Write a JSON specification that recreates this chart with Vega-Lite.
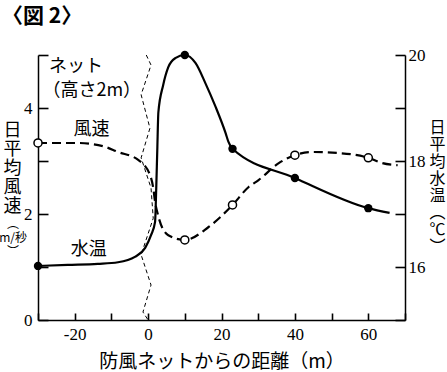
{
  "$schema": "https://vega.github.io/schema/vega-lite/v6.json",
  "width": 367,
  "height": 265,
  "autosize": {"type": "none"},
  "padding": {"left": 38, "top": 55, "right": 42, "bottom": 52},
  "background": "white",
  "config": {
    "view": {"stroke": null},
    "axis": {
      "grid": false,
      "domainColor": "black",
      "domainWidth": 1.5,
      "tickColor": "black",
      "tickWidth": 1.6,
      "labelFont": "Liberation Serif",
      "labelFontSize": 17,
      "labelColor": "black",
      "titleFont": "Noto Sans CJK JP",
      "titleColor": "black",
      "titleFontWeight": "normal"
    }
  },
  "title": {
    "text": "〈図 2〉",
    "anchor": "start",
    "frame": "group",
    "dx": -36,
    "offset": 19,
    "font": "Noto Sans CJK JP",
    "fontSize": 21,
    "fontWeight": "bold",
    "color": "black"
  },
  "datasets": {
    "wind": [
      {"d": -30, "wind": 3.34},
      {"d": -19.2, "wind": 3.34},
      {"d": -12.3, "wind": 3.28},
      {"d": -8.2, "wind": 3.17},
      {"d": -2.7, "wind": 3.02},
      {"d": 0.5, "wind": 2.74},
      {"d": 1.4, "wind": 2.49},
      {"d": 1.9, "wind": 2.23},
      {"d": 2.7, "wind": 1.98},
      {"d": 5.5, "wind": 1.6},
      {"d": 10, "wind": 1.51},
      {"d": 16.4, "wind": 1.75},
      {"d": 23, "wind": 2.17},
      {"d": 27.4, "wind": 2.51},
      {"d": 30.1, "wind": 2.64},
      {"d": 35.6, "wind": 2.96},
      {"d": 40, "wind": 3.11},
      {"d": 44.7, "wind": 3.17},
      {"d": 52, "wind": 3.15},
      {"d": 60, "wind": 3.06},
      {"d": 63.8, "wind": 2.96},
      {"d": 68, "wind": 2.92}
    ],
    "windPts": [
      {"d": -30, "wind": 3.34},
      {"d": 10, "wind": 1.51},
      {"d": 23, "wind": 2.17},
      {"d": 40, "wind": 3.11},
      {"d": 60, "wind": 3.06}
    ],
    "temp": [
      {"d": -30, "temp": 16.02},
      {"d": -21.9, "temp": 16.04},
      {"d": -13.7, "temp": 16.06},
      {"d": -8.2, "temp": 16.09},
      {"d": -3.6, "temp": 16.19},
      {"d": -0.8, "temp": 16.36},
      {"d": 0.8, "temp": 16.6},
      {"d": 1.9, "temp": 16.85},
      {"d": 2.2, "temp": 17.45},
      {"d": 2.5, "temp": 18.2},
      {"d": 2.8, "temp": 18.92},
      {"d": 4.1, "temp": 19.43},
      {"d": 5.5, "temp": 19.77},
      {"d": 7.4, "temp": 19.94},
      {"d": 10, "temp": 20.0},
      {"d": 12.9, "temp": 19.85},
      {"d": 15.6, "temp": 19.47},
      {"d": 18.4, "temp": 19.02},
      {"d": 21.1, "temp": 18.53},
      {"d": 21.9, "temp": 18.36},
      {"d": 23, "temp": 18.23},
      {"d": 40, "temp": 17.68},
      {"d": 60, "temp": 17.11},
      {"d": 65.8, "temp": 17.02}
    ],
    "tempPts": [
      {"d": -30, "temp": 16.02},
      {"d": 10, "temp": 20.0},
      {"d": 23, "temp": 18.23},
      {"d": 40, "temp": 17.68},
      {"d": 60, "temp": 17.11}
    ],
    "net": [
      {"d": -0.5, "wind": 5.0},
      {"d": 0.8, "wind": 4.81},
      {"d": -1.9, "wind": 4.25},
      {"d": 0.5, "wind": 3.62},
      {"d": -1.9, "wind": 3.06},
      {"d": 0.8, "wind": 2.49},
      {"d": 1.4, "wind": 1.92},
      {"d": -1.9, "wind": 1.23},
      {"d": 0.8, "wind": 0.66},
      {"d": -1.4, "wind": 0.15},
      {"d": 0, "wind": 0}
    ],
    "labels": [
      {"d": -27, "wind": 4.77, "text": "ネット"},
      {"d": -28.8, "wind": 4.32, "text": "（高さ2m）"},
      {"d": -20.3, "wind": 3.58, "text": "風速"},
      {"d": -21.1, "wind": 1.32, "text": "水温"}
    ],
    "unit": [
      {"d": -36.8, "wind": 1.9, "text": "︵\nm/秒\n︶"}
    ]
  },
  "encoding": {
    "x": {
      "field": "d", "type": "quantitative",
      "scale": {"domain": [-30, 70], "nice": false, "zero": false},
      "axis": {
        "values": [-30, -20, -10, 0, 10, 20, 30, 40, 50, 60, 70],
        "tickSize": -7,
        "labelPadding": 13,
        "labelOverlap": false,
        "labelExpr": "(datum.value % 20 == 0 && datum.value < 70) ? '' + datum.value : ''",
        "title": "防風ネットからの距離（m）",
        "titleFontSize": 19,
        "titlePadding": 10
      }
    }
  },
  "layer": [
    {
      "layer": [
        {
          "data": {"name": "wind"},
          "mark": {"type": "line", "interpolate": "monotone", "color": "black", "strokeWidth": 2.2, "strokeDash": [9, 5]},
          "encoding": {
            "y": {
              "field": "wind", "type": "quantitative",
              "scale": {"domain": [0, 5], "nice": false},
              "axis": {
                "orient": "left",
                "values": [0, 1, 2, 3, 4, 5],
                "tickSize": -10,
                "labelPadding": 16,
                "labelExpr": "(datum.value % 2 == 0 && datum.value < 5) ? datum.label : ''",
                "title": ["日", "平", "均", "風", "速"],
                "titleAngle": 0,
                "titleFontSize": 18,
                "titleLineHeight": 19,
                "titleX": -26,
                "titleY": 66,
                "titleAlign": "center",
                "titleBaseline": "top"
              }
            }
          }
        },
        {
          "data": {"name": "windPts"},
          "mark": {"type": "point", "shape": "circle", "filled": true, "fill": "white", "stroke": "black", "strokeWidth": 1.5, "size": 65, "opacity": 1},
          "encoding": {
            "y": {"field": "wind", "type": "quantitative"}
          }
        },
        {
          "data": {"name": "net"},
          "mark": {"type": "line", "color": "black", "strokeWidth": 1, "strokeDash": [4, 3]},
          "encoding": {
            "y": {"field": "wind", "type": "quantitative"},
            "order": {"field": "wind", "sort": "descending"}
          }
        },
        {
          "data": {"name": "labels"},
          "mark": {"type": "text", "align": "left", "baseline": "middle", "font": "Noto Sans CJK JP", "fontSize": 18, "color": "black"},
          "encoding": {
            "y": {"field": "wind", "type": "quantitative"},
            "text": {"field": "text"}
          }
        },
        {
          "data": {"name": "unit"},
          "mark": {"type": "text", "align": "center", "baseline": "top", "font": "Noto Sans CJK JP", "fontSize": 12, "lineHeight": 14, "lineBreak": "\n", "color": "black", "clip": false},
          "encoding": {
            "y": {"field": "wind", "type": "quantitative"},
            "text": {"field": "text"}
          }
        }
      ]
    },
    {
      "layer": [
        {
          "data": {"name": "temp"},
          "mark": {"type": "line", "interpolate": "monotone", "color": "black", "strokeWidth": 2.2},
          "encoding": {
            "y": {
              "field": "temp", "type": "quantitative",
              "scale": {"domain": [15, 20], "nice": false, "zero": false},
              "axis": {
                "orient": "right",
                "values": [15, 16, 17, 18, 19, 20],
                "tickSize": -10,
                "labelPadding": 13,
                "labelExpr": "(datum.value % 2 == 0) ? datum.label : ''",
                "title": ["日", "平", "均", "水", "温", "︵", "℃", "︶"],
                "titleAngle": 0,
                "titleFontSize": 16,
                "titleLineHeight": 17,
                "titleX": 32,
                "titleY": 64,
                "titleAlign": "center",
                "titleBaseline": "top"
              }
            }
          }
        },
        {
          "data": {"name": "tempPts"},
          "mark": {"type": "point", "shape": "circle", "filled": true, "color": "black", "size": 70, "opacity": 1},
          "encoding": {
            "y": {"field": "temp", "type": "quantitative"}
          }
        }
      ]
    }
  ],
  "resolve": {"scale": {"y": "independent"}, "axis": {"y": "independent"}}
}
